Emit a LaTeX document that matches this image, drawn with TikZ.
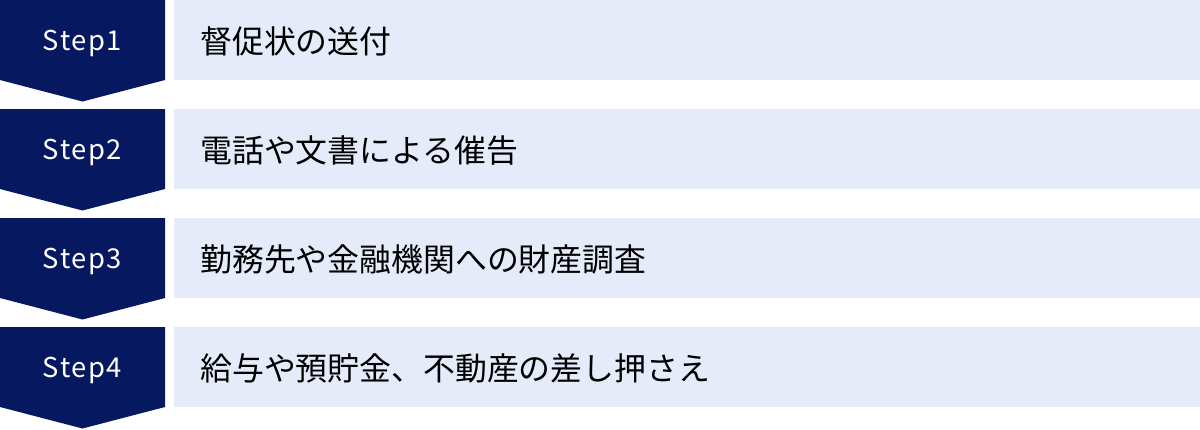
\documentclass[tikz,border=0pt]{standalone}
\usepackage{fontspec}
\setmainfont{Noto Sans CJK JP}
\newfontfamily\stepfont[LetterSpace=6]{Noto Sans CJK JP}
\definecolor{stepnavy}{RGB}{6,24,96}
\definecolor{barblue}{RGB}{229,235,248}
\tikzset{
  badge/.style={fill=stepnavy},
  bar/.style={fill=barblue},
  steplabel/.style={text=white, font=\stepfont\fontsize{20.5}{20.5}\selectfont},
  itemlabel/.style={anchor=west, inner sep=0pt, font=\fontsize{23.9}{23.9}\selectfont}
}
\begin{document}
\begin{tikzpicture}[x=0.75pt,y=-0.75pt]
  \useasboundingbox (0,0) rectangle (1200,429);
  \fill[badge] (0,0) -- (165,0) -- (165,80) -- (82.5,101.5) -- (0,80) -- cycle;
  \fill[bar] (174,0) rectangle (1200,80);
  \node[steplabel] (step1) at (82.5,43) {Step1};
  \node[itemlabel] (item1) at (200,41) {督促状の送付};
  \fill[badge] (0,109) -- (165,109) -- (165,189) -- (82.5,210.5) -- (0,189) -- cycle;
  \fill[bar] (174,109) rectangle (1200,189);
  \node[steplabel] (step2) at (82.5,152) {Step2};
  \node[itemlabel] (item2) at (200,150) {電話や文書による催告};
  \fill[badge] (0,218) -- (165,218) -- (165,298) -- (82.5,319.5) -- (0,298) -- cycle;
  \fill[bar] (174,218) rectangle (1200,298);
  \node[steplabel] (step3) at (82.5,261) {Step3};
  \node[itemlabel] (item3) at (200,259) {勤務先や金融機関への財産調査};
  \fill[badge] (0,327) -- (165,327) -- (165,407) -- (82.5,428.5) -- (0,407) -- cycle;
  \fill[bar] (174,327) rectangle (1200,407);
  \node[steplabel] (step4) at (82.5,370) {Step4};
  \node[itemlabel] (item4) at (200,368) {給与や預貯金、不動産の差し押さえ};
\end{tikzpicture}
\end{document}
